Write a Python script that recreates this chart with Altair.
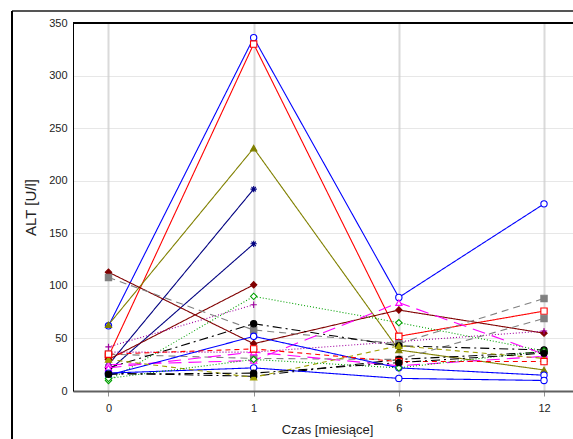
import altair as alt
import pandas as pd

# Measurement times (months) and ALT values per patient
months = ["0", "1", "6", "12"]

patients = [f"P{i:02d}" for i in range(1, 23)]
alt_values = [
    [62, 336, 89, 178],
    [33, 330, 52, 76],
    [63, 231, 39, 20],
    [25, 192, None, None],
    [19, 140, None, None],
    [113, 45, 77, 55],
    [30, 101, None, None],
    [10, 90, 65, 38],
    [42, 82, None, None],
    [37, 37, 47, 57],
    [108, 58, 45, 88],
    [35, 31, 30, 69],
    [22, 64, 43, 39],
    [17, 14, 30, 37],
    [25, 29, 84, 35],
    [22, 37, 24, 33],
    [15, 52, 22, 15],
    [17, 22, 12, 10],
    [30, 13, 43, 31],
    [35, 40, 28, 28],
    [12, 30, 22, 38],
    [16, 17, 27, 36],
]

# Line / marker style per patient
colors = ["#0000ff", "#ff0000", "#808000", "#000080", "#000080", "#800000",
          "#800000", "#00a000", "#a000a0", "#a000a0", "#808080", "#808080",
          "#000000", "#000000", "#ff00ff", "#ff00ff", "#0000ff", "#0000ff",
          "#a0a000", "#ff0000", "#00a000", "#000000"]
SOLID, DOT, DASH, DASHDOT, LONG, SHORT = [1, 0], [1, 2], [7, 5], [9, 4, 2, 4], [13, 7], [5, 4]
dashes = [SOLID, SOLID, SOLID, SOLID, SOLID, SOLID, SOLID, DOT, DOT, DOT,
          DASH, DASH, DASHDOT, DASHDOT, LONG, LONG, SOLID, SOLID, SHORT,
          SHORT, DOT, DASHDOT]
ASTER = "M-1,0L1,0M0,-1L0,1M-0.7,-0.7L0.7,0.7M-0.7,0.7L0.7,-0.7"
PLUS = "M-1,0L1,0M0,-1L0,1"
shapes = ["circle", "square", "triangle-up", ASTER, ASTER, "diamond", "diamond",
          "diamond", PLUS, PLUS, "square", "square", "circle", "circle",
          "triangle-up", "triangle-up", "circle", "circle", "triangle-up",
          "square", "diamond", "circle"]
filled = [False, False, True, False, False, True, True, False, False, False,
          True, True, True, True, False, False, False, False, True, False,
          False, True]
fills = [c if f else "#ffffff" for c, f in zip(colors, filled)]
for i, s in enumerate(shapes):
    if s in (ASTER, PLUS):
        fills[i] = "transparent"

rows = []
for pid, vals in zip(patients, alt_values):
    for k, (m, v) in enumerate(zip(months, vals)):
        if v is not None:
            rows.append({"pid": pid, "month": m, "idx": k, "alt": v})
df = pd.DataFrame(rows)

W, H = 500, 368
FONT = "Liberation Sans"

# Time points are evenly spaced categories; the axis labels show the months
x_scale = alt.Scale(domain=[-0.2445, 3.1997], nice=False, zero=False)
y_scale = alt.Scale(domain=[0, 350], nice=False, zero=True)
label_expr = "[" + ",".join(f"'{m}'" for m in months) + "][datum.value]"

x_enc = alt.X("idx:Q", scale=x_scale,
              axis=alt.Axis(title="Czas [miesiące]", values=[0, 1, 2, 3],
                            labelExpr=label_expr, grid=True,
                            gridColor="#dadada", gridWidth=2,
                            domainColor="#606060", domainWidth=2,
                            tickColor="#909090", tickSize=5, tickWidth=1,
                            labelPadding=6, labelFontSize=11, labelColor="#222222",
                            labelFlush=False,
                            titleFontSize=13, titleFontWeight="normal",
                            titleColor="#222222", titleX=254, titlePadding=10))
y_enc = alt.Y("alt:Q", scale=y_scale,
              axis=alt.Axis(title="ALT [U/l]", values=list(range(0, 351, 50)),
                            grid=True, gridColor="#cfcfcf", gridWidth=1,
                            gridDash=[1, 1], domainColor="#000000",
                            domainWidth=1, tickSize=0, labelPadding=6,
                            labelFontSize=11, labelColor="#222222",
                            titleFontSize=15, titleFontWeight="normal",
                            titleColor="#222222", titleX=-43, titleY=H / 2,
                            titleAngle=-90, titleAlign="center",
                            titleBaseline="middle"))

col_scale = alt.Scale(domain=patients, range=colors)

lines = alt.Chart(df).mark_line(strokeWidth=1.1).encode(
    x=x_enc, y=y_enc,
    color=alt.Color("pid:N", scale=col_scale, legend=None),
    strokeDash=alt.StrokeDash("pid:N", scale=alt.Scale(domain=patients, range=dashes),
                              legend=None),
    order=alt.Order("idx:Q"),
)

points = alt.Chart(df).mark_point(size=40, strokeWidth=1.1, opacity=1,
                                  fillOpacity=1).encode(
    x=alt.X("idx:Q", scale=x_scale),
    y=alt.Y("alt:Q", scale=y_scale),
    stroke=alt.Stroke("pid:N", scale=col_scale, legend=None),
    fill=alt.Fill("pid:N", scale=alt.Scale(domain=patients, range=fills), legend=None),
    shape=alt.Shape("pid:N", scale=alt.Scale(domain=patients, range=shapes),
                    legend=None),
)

# Plot frame top edge and the outer figure border
top_line = alt.Chart(df).mark_rule(color="#000000", strokeWidth=1).encode(
    x=alt.value(0), x2=alt.value(W + 10), y=alt.value(0))
outer_top = alt.Chart(df).mark_rule(color="#555555", strokeWidth=2).encode(
    x=alt.value(-61), x2=alt.value(W + 10), y=alt.value(-12))
outer_left = alt.Chart(df).mark_rule(color="#000000", strokeWidth=1.5).encode(
    x=alt.value(-61), y=alt.value(-12), y2=alt.value(H + 60))

chart = alt.layer(lines, points, top_line, outer_top, outer_left).properties(
    width=W, height=H,
    autosize=alt.AutoSizeParams(type="none"),
    padding={"left": 73, "top": 23, "right": 0, "bottom": 48},
).configure(font=FONT).configure_view(stroke=None)

chart.save("out.html", embed_options={"renderer": "svg", "actions": False})
